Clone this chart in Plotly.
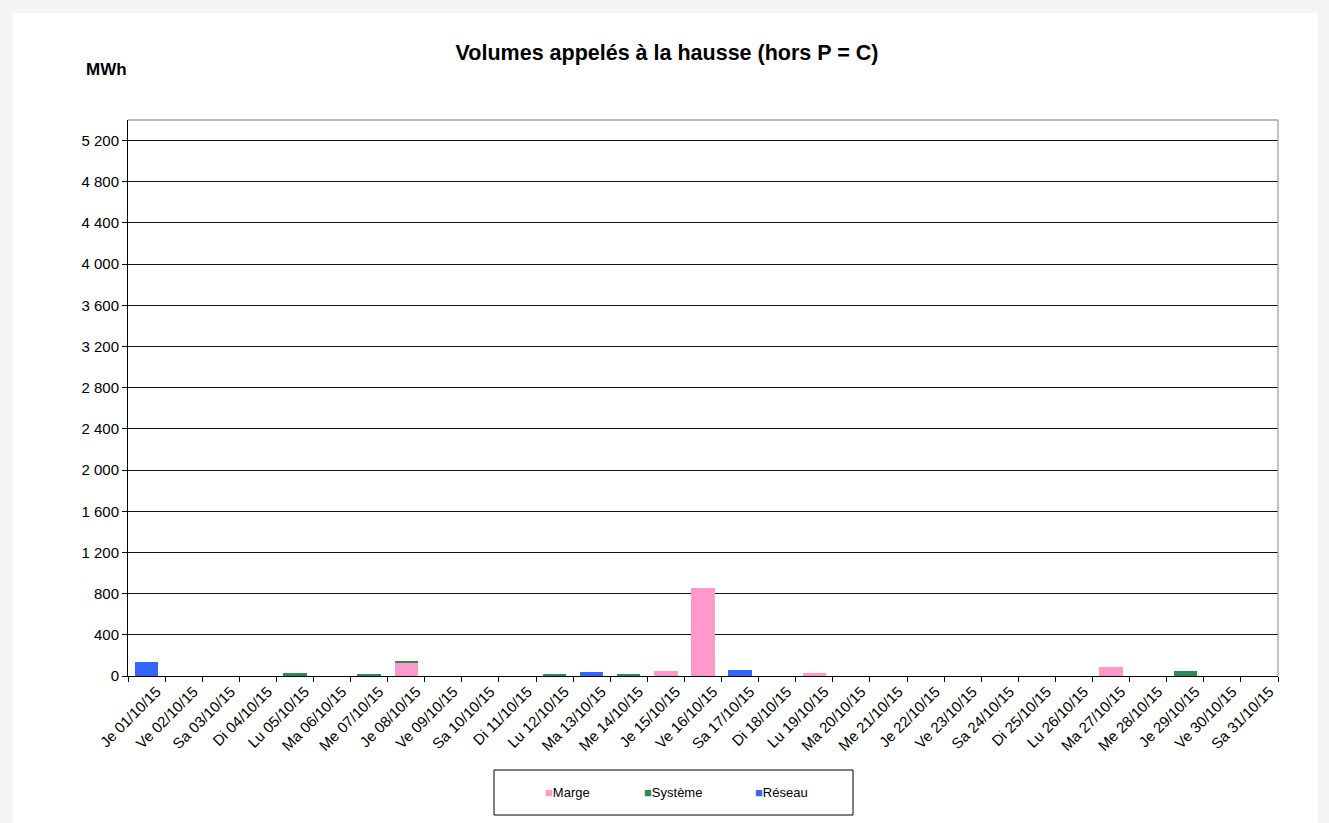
import plotly.graph_objects as go

categories = ["Je 01/10/15", "Ve 02/10/15", "Sa 03/10/15", "Di 04/10/15", "Lu 05/10/15",
              "Ma 06/10/15", "Me 07/10/15", "Je 08/10/15", "Ve 09/10/15", "Sa 10/10/15",
              "Di 11/10/15", "Lu 12/10/15", "Ma 13/10/15", "Me 14/10/15", "Je 15/10/15",
              "Ve 16/10/15", "Sa 17/10/15", "Di 18/10/15", "Lu 19/10/15", "Ma 20/10/15",
              "Me 21/10/15", "Je 22/10/15", "Ve 23/10/15", "Sa 24/10/15", "Di 25/10/15",
              "Lu 26/10/15", "Ma 27/10/15", "Me 28/10/15", "Je 29/10/15", "Ve 30/10/15",
              "Sa 31/10/15"]

marge = [0, 0, 0, 0, 0, 0, 0, 130, 0, 0, 0, 0, 0, 0, 50, 850, 0, 0, 30, 0,
         0, 0, 0, 0, 0, 0, 90, 0, 0, 0, 0]
systeme = [0, 0, 0, 0, 32, 0, 20, 15, 0, 0, 0, 18, 0, 18, 0, 0, 0, 0, 0, 0,
           0, 0, 0, 0, 0, 0, 0, 0, 48, 0, 0]
reseau = [135, 0, 0, 0, 0, 0, 0, 0, 0, 0, 0, 0, 35, 0, 0, 0, 62, 0, 0, 0,
          0, 0, 0, 0, 0, 0, 0, 0, 0, 0, 0]

series_names = ["Marge", "Système", "Réseau"]
series_colors = ["#FF99CC", "#2E8B57", "#3366FF"]

y_ticks = list(range(0, 5201, 400))

FONT = "Liberation Sans, Arial, sans-serif"

fig = go.Figure()
for name, vals, col in zip(series_names, [marge, systeme, reseau], series_colors):
    fig.add_bar(x=categories, y=vals, name=name, showlegend=False,
                marker=dict(color=col, line=dict(width=0)))

L, R, T, B = 128, 51, 120, 147
W, H = 1329, 823
pw, ph = W - L - R, H - T - B

def px(x):
    return (x - L) / pw

def py(y):
    return (H - B - y) / ph

# legend drawn as a bordered box with coloured squares
legend_box = dict(type="rect", xref="paper", yref="paper",
                  x0=px(494), x1=px(853), y0=py(815), y1=py(770),
                  line=dict(color="black", width=1), fillcolor="white")
legend_x = [543, 642, 753]
legend_ann = [dict(text=f"<span style='color:{c}'>■</span>{n}", xref="paper", yref="paper",
                   x=px(lx), xanchor="left", y=py(792), yanchor="middle", showarrow=False,
                   font=dict(size=13, family=FONT, color="black"))
              for n, c, lx in zip(series_names, series_colors, legend_x)]

fig.update_layout(
    width=W, height=H,
    barmode="stack",
    bargap=0.37,
    separators=", ",
    paper_bgcolor="#f4f4f4",
    plot_bgcolor="white",
    margin=dict(l=L, r=R, t=T, b=B, pad=0),
    font=dict(family=FONT, color="black", size=13),
    title=dict(text="<b>Volumes appelés à la hausse (hors P = C)</b>",
               x=px(667), xref="paper", xanchor="center",
               y=1 - 52 / H, yanchor="middle", font=dict(size=21.5, family=FONT)),
    showlegend=False,
    shapes=[dict(type="rect", xref="paper", yref="paper", layer="below",
                 x0=px(13), x1=px(1318), y0=py(H + 5), y1=py(13),
                 fillcolor="white", line=dict(width=0)),
            legend_box],
    annotations=[dict(text="<b>MWh</b>", xref="paper", yref="paper",
                      x=px(84), xanchor="left", y=py(70), yanchor="middle",
                      showarrow=False, font=dict(size=17, family=FONT))] + legend_ann,
)

fig.update_xaxes(
    type="category", tickangle=-45, tickson="boundaries",
    ticks="outside", ticklen=5, tickcolor="black",
    showline=True, linecolor="black", linewidth=1, mirror=False,
    showgrid=False, tickfont=dict(size=15, family=FONT), ticklabelshift=10,
)
fig.update_yaxes(
    range=[0, 5400], tickvals=y_ticks, tickformat=",d",
    ticks="outside", ticklen=5, tickcolor="black",
    showline=True, linecolor="black", linewidth=1,
    showgrid=True, gridcolor="#111111", gridwidth=1.3,
    zeroline=False, tickfont=dict(size=15, family=FONT),
)

# gray plot-area border on top and right
fig.add_shape(type="line", xref="paper", yref="paper", x0=0, x1=1, y0=1, y1=1,
              line=dict(color="#a0a0a0", width=1.3))
fig.add_shape(type="line", xref="paper", yref="paper", x0=1, x1=1, y0=0, y1=1,
              line=dict(color="#a0a0a0", width=1.3))

fig.write_html("out.html", config={"displayModeBar": False},
               post_script="document.body.style.margin='0';document.body.style.background='#f4f4f4';")
